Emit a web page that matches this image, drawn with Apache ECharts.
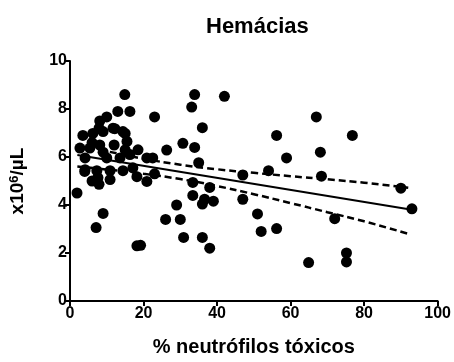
<!DOCTYPE html>
<html>
<head>
<meta charset="utf-8">
<script src="https://cdn.jsdelivr.net/npm/echarts@6/dist/echarts.min.js"></script>
<style>html,body{margin:0;padding:0;background:#fff;}#c{width:454px;height:362px;}</style>
</head>
<body>
<div id="c"></div>
<script>
var titleText = 'Hemácias';
var xName = '% neutrófilos tóxicos';
var xTicks = [0, 20, 40, 60, 80, 100];
var yTicks = [0, 2, 4, 6, 8, 10];

var points = [
  [1.9,4.5],[7.1,3.06],[9.0,3.65],[18.2,2.3],[19.2,2.32],
  [14.9,8.6],[13,7.9],[16.3,7.9],[23,7.67],[10,7.67],[8.1,7.5],
  [33.9,8.6],[33.1,8.08],[42,8.53],[36,7.22],[33.9,6.4],[56.2,6.9],[67,7.67],[68.1,6.2],[58.9,5.96],[76.8,6.9],[68.4,5.2],
  [35,5.76],[47,5.25],[54,5.43],[33.4,4.94],[38,4.73],[33.4,4.4],[36.6,4.24],[36,4.04],[39,4.16],[47,4.24],[51,3.63],[52,2.9],[56.2,3.02],[36,2.65],[38,2.2],[64.9,1.6],[75.2,2.0],[75.2,1.63],[72,3.43],[90,4.7],[93,3.84],
  [4,5.4],[6,5.0],[7.9,4.86],[10.9,5.06],[7.6,5.14],[18.2,5.18],[20.9,4.98],[23,5.3],[29,4.0],[26,3.4],[30,3.4],[30.9,2.65],
  [3.5,6.9],[6.2,6.98],[9,7.06],[11.7,7.2],[14.4,7.06],[15.5,6.65],[2.7,6.37],[5.4,6.37],[8.1,6.5],[4.1,5.96],[10,5.96],[13.6,5.96],
  [4.1,5.47],[7.3,5.43],[10.9,5.43],[14.4,5.43],[17.1,5.55],[15,6.98],[30.7,6.57],[26.3,6.29],[20.9,5.96],[22.5,5.96],[16.3,6.1],
  [12.2,7.18],[18.5,6.3],[6,6.6],[9,6.2],[12,6.5],[15,6.3],[7.9,7.2]
];

var fitLine = [[2,6.08],[93,3.8]];
var upperBand = [[2,6.5],[10,6.24],[20,5.93],[30,5.68],[40,5.49],[50,5.34],[60,5.2],[70,5.07],[80,4.93],[92,4.72]];
var lowerBand = [[2,5.6],[10,5.48],[20,5.3],[30,5.08],[40,4.79],[50,4.45],[60,4.08],[70,3.7],[80,3.32],[92,2.8]];

var font = '"Liberation Sans", Arial, sans-serif';
var chart = echarts.init(document.getElementById('c'), null, {renderer: 'canvas'});
chart.setOption({
  animation: false,
  backgroundColor: '#fff',
  title: {
    text: titleText, left: 201, top: 11,
    textStyle: {fontFamily: font, fontWeight: 'bold', fontSize: 22, color: '#000'}
  },
  grid: {left: 70, right: 15, top: 61, bottom: 56},
  xAxis: {
    type: 'value', min: 0, max: 100, interval: 20,
    name: xName, nameLocation: 'middle', nameGap: 36,
    nameTextStyle: {fontFamily: font, fontWeight: 'bold', fontSize: 20, color: '#000'},
    axisLine: {onZero: false, lineStyle: {color: '#000', width: 2}},
    axisTick: {show: true, inside: false, length: 5, lineStyle: {color: '#000', width: 2}},
    axisLabel: {fontFamily: font, fontWeight: 'bold', fontSize: 16, color: '#000', margin: 5,
      formatter: function (v) { return xTicks.indexOf(v) >= 0 ? String(v) : ''; }},
    splitLine: {show: false}
  },
  yAxis: {
    type: 'value', min: 0, max: 10, interval: 2,
    name: '{a|x10}{s|6}{a|/µL}', nameLocation: 'middle', nameGap: 42, nameRotate: 90,
    nameTextStyle: {
      rich: {
        a: {fontFamily: font, fontWeight: 'bold', fontSize: 19, color: '#000'},
        s: {fontFamily: font, fontWeight: 'bold', fontSize: 13, color: '#000', verticalAlign: 'top', padding: [0, 0, 7, 0]}
      }
    },
    axisLine: {onZero: false, lineStyle: {color: '#000', width: 2}},
    axisTick: {show: true, inside: false, length: 5, lineStyle: {color: '#000', width: 2}},
    axisLabel: {fontFamily: font, fontWeight: 'bold', fontSize: 16, color: '#000', margin: 3,
      formatter: function (v) { return yTicks.indexOf(v) >= 0 ? String(v) : ''; }},
    splitLine: {show: false}
  },
  series: [
    {type: 'scatter', data: points, symbol: 'circle', symbolSize: 11,
      itemStyle: {color: '#000', opacity: 1}, z: 2},
    {type: 'line', data: fitLine, symbol: 'none', lineStyle: {color: '#000', width: 2}, z: 3},
    {type: 'line', data: upperBand, symbol: 'none', smooth: true,
      lineStyle: {color: '#000', width: 2.5, type: [7, 4]}, z: 3},
    {type: 'line', data: lowerBand, symbol: 'none', smooth: true,
      lineStyle: {color: '#000', width: 2.5, type: [7, 4]}, z: 3}
  ]
});
</script>
</body>
</html>
